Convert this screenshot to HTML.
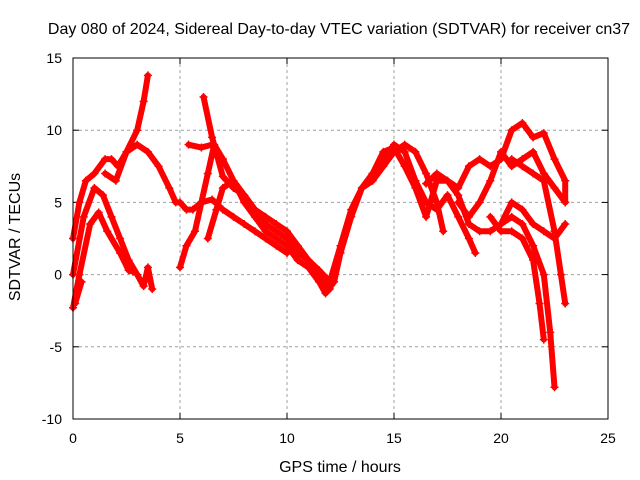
<!DOCTYPE html>
<html><head><meta charset="utf-8"><style>
body{margin:0;background:#fff}
svg{display:block;font-family:"Liberation Sans",sans-serif}
</style></head><body>
<svg id="chart" width="640" height="480" viewBox="0 0 640 480">
<text x="339" y="34" font-size="16" text-anchor="middle">Day 080 of 2024, Sidereal Day-to-day VTEC variation (SDTVAR) for receiver cn37</text>
<text x="340" y="472" font-size="16" text-anchor="middle">GPS time / hours</text>
<text transform="translate(20,237) rotate(-90)" font-size="16" text-anchor="middle">SDTVAR / TECUs</text>
<g id="grid"></g>
<g id="ticks"></g>
<g id="series"></g>
<rect x="73" y="58" width="535" height="361" fill="none" stroke="#000" stroke-width="1"/>
</svg>
<script>
const xTicks=[0,5,10,15,20,25];
const yTicks=[-10,-5,0,5,10,15];
const trackA=[[0,-2.3],[0.3,0],[0.8,3.5],[1.2,4.3],[1.6,3],[2.2,1.5],[2.6,0.3],[2.8,0.2]];
const trackB=[[0,2.5],[0.3,5],[0.6,6.5],[1,7],[1.5,8],[1.8,8],[2.1,7.5],[2.5,8.5],[3,10],[3.3,12],[3.5,13.8]];
const trackC=[[0,0],[0.5,4],[1,6],[1.4,5.5],[1.8,4],[2.2,2.5],[2.6,1],[3,0],[3.3,-0.8],[3.5,0.5],[3.7,-1]];
const trackC2=[[0.1,-2],[0.4,-0.5]];
const trackD=[[1.5,7],[2,6.5],[2.5,8.5],[3,9],[3.5,8.5],[4,7.5],[4.5,6],[4.8,5],[5,5],[5.3,4.5],[5.6,4.5],[6,5],[6.5,5.2],[7,4.5],[7.5,4],[8,3.5],[8.5,3],[9,2.5],[9.5,2],[10,1.5]];
const trackF=[[5,0.5],[5.3,2],[5.7,3],[6,5],[6.3,7],[6.6,9],[7,8]];
const trackG2=[[6.1,12.3],[6.5,9.5],[7,6.8],[7.5,6],[8,5.5],[8.5,4.5],[9,3.5],[9.5,3],[10,2.5],[10.5,1.5],[11,1],[11.5,0],[12,-1]];
const trackG=[[5.4,9],[6,8.8],[6.5,9],[7,8],[7.5,6.5],[8,5],[8.5,4],[9,3],[10,2],[10.5,1],[11,0.5],[11.5,-0.5],[11.8,-1.3],[12.2,-0.5],[12.5,1.5],[13,4],[13.5,6],[14,7],[14.5,8],[15,9],[15.5,8.5],[16,6.5],[16.5,5],[17,4.5],[17.5,5.5],[18,4],[18.5,2.5],[18.8,1.5]];
const trackH=[[6.3,2.5],[6.7,4.5],[7,6],[7.5,6.5],[8,5.5],[8.5,4.5],[9,4],[9.5,3.5],[10,3],[10.5,2],[11,1],[11.5,0.3],[12,-0.5]];
const trackI=[[12,-0.5],[12.5,2],[13,4.5],[13.5,6],[14,6.5],[14.5,7.5],[15,8.5],[15.5,9],[16,8.5],[16.5,7],[17,5],[17.3,3]];
const trackJ=[[14,7],[14.5,8.5],[15,8.8],[15.5,7.5],[16,6],[16.5,4],[17,6.5],[17.5,6.5],[18,5.5],[18.5,3.5],[19,3],[19.5,3],[20,3.5],[20.5,5],[21,4.5],[21.5,3.5],[22,3],[22.5,2.5],[23,3.5]];
const trackK=[[16.5,6.3],[17,7],[17.5,6.5],[18,6],[18.5,7.5],[19,8],[19.5,7.5],[20,8],[20.5,10],[21,10.5],[21.5,9.5],[22,9.8],[22.5,8],[23,6.5],[23,5]];
const trackL=[[18,5],[18.5,4],[19,5],[19.5,6.5],[20,8.5],[20.5,7.5],[21,8],[21.5,8.5],[22,7],[22.5,6],[23,5]];
const trackM=[[20,3.5],[20.5,4],[21,3.5],[21.5,2],[22,0],[22.3,-4],[22.5,-7.8]];
const trackN=[[19.5,4],[20,3],[20.5,3],[21,2.5],[21.5,1],[21.8,-2],[22,-4.5]];
const trackO=[[20.5,8],[21,7.5],[21.5,7],[22,6.5],[22.5,3],[22.8,0],[23,-2]];
const tracks=[trackA,trackB,trackC,trackC2,trackD,trackF,trackG2,trackG,trackH,trackI,trackJ,trackK,trackL,trackM,trackN,trackO];

const X0=73,X1=608,Y0=419,Y1=58;
const sx=v=>X0+(v-0)/(25-0)*(X1-X0);
const sy=v=>Y0-(v+10)/(25)*(Y0-Y1);
const NS="http://www.w3.org/2000/svg";
const grid=document.getElementById('grid'),ticks=document.getElementById('ticks'),series=document.getElementById('series');
function mk(tag,attrs,parent){const e=document.createElementNS(NS,tag);for(const k in attrs)e.setAttribute(k,attrs[k]);parent.appendChild(e);return e;}
xTicks.forEach(t=>{
  const x=sx(t);
  if(t>0&&t<25){const g=mk('line',{x1:x,x2:x,y1:Y1,y2:Y0,stroke:'#a0a0a0','stroke-dasharray':'3,3'},grid);
  
  }
  mk('line',{x1:x,x2:x,y1:Y0,y2:Y0-6,stroke:'#000'},ticks);
  mk('line',{x1:x,x2:x,y1:Y1,y2:Y1+6,stroke:'#000'},ticks);
  const l=mk('text',{x:x,y:443,'font-size':14,'text-anchor':'middle'},ticks);l.textContent=t;
  
  
});
yTicks.forEach(t=>{
  const y=sy(t);
  if(t>-10&&t<15){const g=mk('line',{x1:X0,x2:X1,y1:y,y2:y,stroke:'#a0a0a0','stroke-dasharray':'3,3'},grid);
  
  }
  mk('line',{x1:X0,x2:X0+6,y1:y,y2:y,stroke:'#000'},ticks);
  mk('line',{x1:X1,x2:X1-6,y1:y,y2:y,stroke:'#000'},ticks);
  const l=mk('text',{x:62,y:y+5,'font-size':14,'text-anchor':'end'},ticks);l.textContent=t;
  
  
});
tracks.forEach((tr,i)=>{
  const p=mk('polyline',{points:tr.map(d=>sx(d[0])+','+sy(d[1])).join(' '),fill:'none',stroke:'#ff0000','stroke-width':6,'stroke-linejoin':'round','stroke-linecap':'round'},series);
  
  
  tr.forEach(d=>{
    const x=sx(d[0]),y=sy(d[1]);
    const m=mk('path',{d:`M${x-4},${y}H${x+4}M${x},${y-4}V${y+4}`,stroke:'#ff0000','stroke-width':1.5},series);
    
    
  });
});
</script>
</body></html>
